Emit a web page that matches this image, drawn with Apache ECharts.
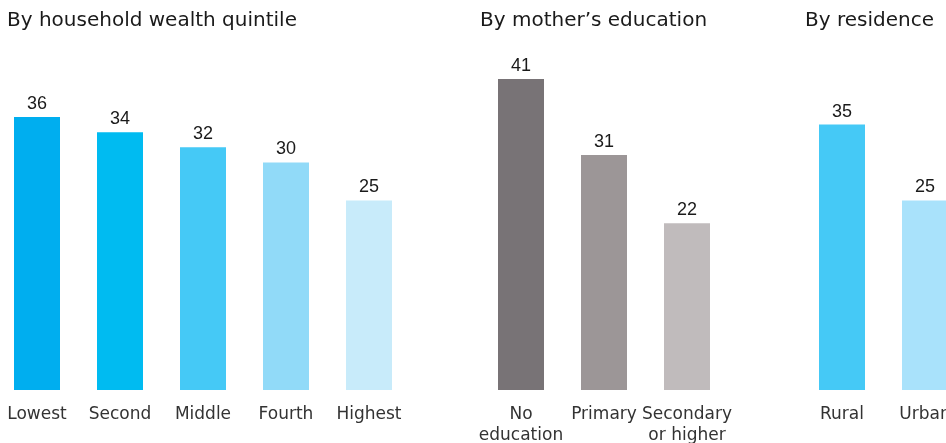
<!DOCTYPE html>
<html>
<head>
<meta charset="utf-8">
<script src="https://cdn.jsdelivr.net/npm/echarts@6/dist/echarts.min.js"></script>
<style>
html,body{margin:0;padding:0;background:#fff;}
#chart{width:946px;height:443px;}
</style>
</head>
<body>
<div id="chart"></div>
<script>
var titles = ['By household wealth quintile', 'By mother\u2019s education', 'By residence'];
var wealthCats = ['Lowest', 'Second', 'Middle', 'Fourth', 'Highest'];
var wealthVals = [36, 34, 32, 30, 25];
var eduCats = ['No\neducation', 'Primary', 'Secondary\nor higher'];
var eduVals = [41, 31, 22];
var resCats = ['Rural', 'Urban'];
var resVals = [35, 25];

var wealthColors = ['#00AEEF', '#00BBF1', '#45C9F6', '#91DAF8', '#C8EBFA'];
var eduColors = ['#787376', '#9C9697', '#C0BBBC'];
var resColors = ['#45C9F6', '#A9E2FB'];

var FONT = '"DejaVu Sans", "Liberation Sans", Arial, sans-serif';
var NUMFONT = '"Liberation Sans", Arial, sans-serif';
var chart = echarts.init(document.getElementById('chart'), null, {renderer: 'canvas'});

// category axes with boundaryGap false: categories sit on evenly spaced points
var grids = [
  {left: 37, width: 332, top: 48.7, bottom: 53, outerBoundsMode: 'none', containLabel: false},
  {left: 521, width: 166, top: 48.7, bottom: 53, outerBoundsMode: 'none', containLabel: false},
  {left: 842, width: 83, top: 48.7, bottom: 53, outerBoundsMode: 'none', containLabel: false}
];
var cats = [wealthCats, eduCats, resCats];
var vals = [wealthVals, eduVals, resVals];
var cols = [wealthColors, eduColors, resColors];

var xAxes = [], yAxes = [], series = [];
for (var i = 0; i < 3; i++) {
  xAxes.push({
    type: 'category', gridIndex: i, data: cats[i], boundaryGap: false,
    axisLine: {show: false}, axisTick: {show: false}, splitLine: {show: false},
    axisLabel: {color: '#333', fontSize: 17, fontFamily: FONT, margin: 14, lineHeight: 21, interval: 0, hideOverlap: false}
  });
  yAxes.push({
    type: 'value', gridIndex: i, min: 0, max: 45,
    show: false, splitLine: {show: false}
  });
  (function (c) {
    series.push({
      type: 'bar', xAxisIndex: i, yAxisIndex: i, data: vals[i], barWidth: 46,
      itemStyle: {color: function (p) { return c[p.dataIndex]; }},
      label: {show: true, position: 'top', distance: 4, color: '#1a1a1a', fontSize: 18, fontFamily: NUMFONT},
      animation: false
    });
  })(cols[i]);
}

var tStyle = {fontSize: 20, fontWeight: 'normal', color: '#1a1a1a', fontFamily: FONT};
chart.setOption({
  animation: false,
  title: [
    {text: titles[0], left: 2, top: 6, textStyle: tStyle},
    {text: titles[1], left: 475, top: 6, textStyle: tStyle},
    {text: titles[2], left: 800, top: 6, textStyle: tStyle}
  ],
  grid: grids,
  xAxis: xAxes,
  yAxis: yAxes,
  series: series
});
</script>
</body>
</html>
